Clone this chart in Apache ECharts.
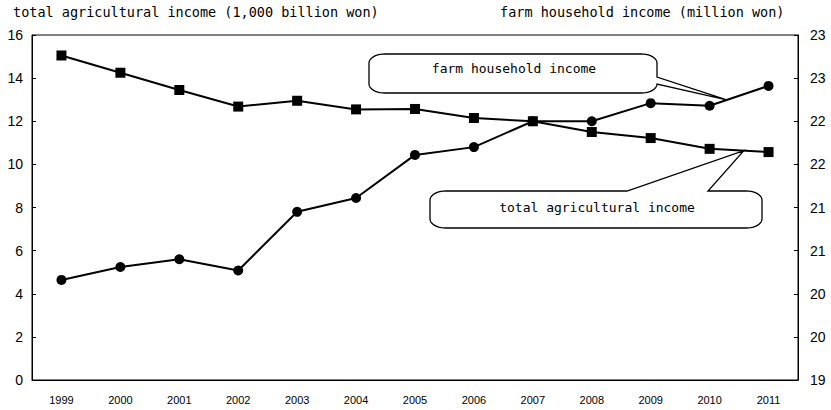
<!DOCTYPE html>
<html>
<head>
<meta charset="utf-8">
<script src="https://cdn.jsdelivr.net/npm/echarts@6/dist/echarts.min.js"></script>
<style>
html,body{margin:0;padding:0;background:#fff;}
#chart{width:831px;height:410px;}
</style>
</head>
<body>
<div id="chart"></div>
<script>
const years = ['1999','2000','2001','2002','2003','2004','2005','2006','2007','2008','2009','2010','2011'];
const totalAgriIncome = [15.05,14.25,13.45,12.68,12.95,12.55,12.57,12.15,12.0,11.5,11.22,10.72,10.57];
const farmHouseholdIncome = [20.16,20.31,20.40,20.27,20.95,21.11,21.61,21.70,22.0,22.0,22.21,22.18,22.41];
const leftAxisName = 'total agricultural income (1,000 billion won)';
const rightAxisName = 'farm household income (million won)';
const farmLabel = 'farm household income';
const totalLabel = 'total agricultural income';

const chart = echarts.init(document.getElementById('chart'), null, {renderer: 'svg'});
const txtFont = '"DejaVu Sans Mono", "Liberation Mono", monospace';
const numFont = '"Liberation Sans", Arial, sans-serif';

chart.setOption({
  backgroundColor: '#fff',
  animation: false,
  grid: {left: 32, right: 33, top: 35, bottom: 30, show: true, borderColor: '#000', borderWidth: 1},
  xAxis: {
    type: 'category', data: years, boundaryGap: true,
    axisLine: {lineStyle: {color: '#000', width: 1}},
    axisTick: {inside: true, length: 4, lineStyle: {color: '#000'}},
    axisLabel: {color: '#000', fontSize: 11, margin: 14, fontFamily: '"Liberation Sans Narrow", "Liberation Sans", sans-serif'}
  },
  yAxis: [{
    type: 'value', min: 0, max: 16, interval: 2,
    splitLine: {show: false},
    axisLine: {show: true, lineStyle: {color: '#000', width: 1}},
    axisTick: {show: true, inside: true, length: 4, lineStyle: {color: '#000'}},
    axisLabel: {color: '#000', fontSize: 14, margin: 9, fontFamily: numFont}
  }, {
    type: 'value', min: 19, max: 23, interval: 0.5, position: 'right',
    splitLine: {show: false},
    axisLine: {show: true, lineStyle: {color: '#000', width: 1}},
    axisTick: {show: true, inside: true, length: 4, lineStyle: {color: '#000'}},
    axisLabel: {color: '#000', fontSize: 14, margin: 12, fontFamily: numFont,
      formatter: v => String(Math.round(v))}
  }],
  series: [{
    name: totalLabel, type: 'line', yAxisIndex: 0, data: totalAgriIncome,
    symbol: 'rect', symbolSize: 10, showSymbol: true,
    lineStyle: {color: '#000', width: 2}, itemStyle: {color: '#000'}, z: 3
  }, {
    name: farmLabel, type: 'line', yAxisIndex: 1, data: farmHouseholdIncome,
    symbol: 'circle', symbolSize: 10, showSymbol: true,
    lineStyle: {color: '#000', width: 2}, itemStyle: {color: '#000'}, z: 3
  }]
});

function arc(pts, cx, cy, rx, ry, a0, a1) {
  const n = 10;
  for (let i = 0; i <= n; i++) {
    const a = (a0 + (a1 - a0) * i / n) * Math.PI / 180;
    pts.push([cx + rx * Math.cos(a), cy + ry * Math.sin(a)]);
  }
}
function lerp(p, q, t) { return [p[0] + (q[0] - p[0]) * t, p[1] + (q[1] - p[1]) * t]; }

const f11 = chart.convertToPixel({seriesIndex: 1}, [11, farmHouseholdIncome[11]]);
const f12 = chart.convertToPixel({seriesIndex: 1}, [12, farmHouseholdIncome[12]]);
const t11 = chart.convertToPixel({seriesIndex: 0}, [11, totalAgriIncome[11]]);
const t12 = chart.convertToPixel({seriesIndex: 0}, [12, totalAgriIncome[12]]);
const farmTip = lerp(f11, f12, 0.29);
const totalTip = lerp(t11, t12, 0.58);

(function () {
  const rx = 16, ry = 9;
  const x0 = 369, x1 = 657, y0 = 54, y1 = 93;
  const pts = [];
  arc(pts, x0 + rx, y0 + ry, rx, ry, 180, 270);
  arc(pts, x1 - rx, y0 + ry, rx, ry, 270, 360);
  pts.push([x1, 77]);
  pts.push(farmTip);
  pts.push([x1, y1 - ry]);
  arc(pts, x1 - rx, y1 - ry, rx, ry, 0, 90);
  arc(pts, x0 + rx, y1 - ry, rx, ry, 90, 180);
  const x0b = 430, x1b = 762, y0b = 191, y1b = 228;
  const p2 = [];
  arc(p2, x0b + rx, y0b + ry, rx, ry, 180, 270);
  p2.push([627, y0b]);
  p2.push(totalTip);
  p2.push([708, y0b]);
  arc(p2, x1b - rx, y0b + ry, rx, ry, 270, 360);
  arc(p2, x1b - rx, y1b - ry, rx, ry, 0, 90);
  arc(p2, x0b + rx, y1b - ry, rx, ry, 90, 180);
  chart.setOption({
    graphic: [
      {type: 'text', left: 13, top: 5, style: {text: leftAxisName, fill: '#000', font: '13.5px ' + txtFont}},
      {type: 'text', left: 500, top: 5, style: {text: rightAxisName, fill: '#000', font: '13.5px ' + txtFont}},
      {type: 'polygon', shape: {points: pts}, style: {fill: '#fff', stroke: '#000', lineWidth: 1.3}, z: 100},
      {type: 'text', x: 514, y: 68, z: 101, style: {text: farmLabel, fill: '#000', font: '13px ' + txtFont, textAlign: 'center', textVerticalAlign: 'middle'}},
      {type: 'polygon', shape: {points: p2}, style: {fill: '#fff', stroke: '#000', lineWidth: 1.3}, z: 100},
      {type: 'text', x: 597, y: 207, z: 101, style: {text: totalLabel, fill: '#000', font: '13px ' + txtFont, textAlign: 'center', textVerticalAlign: 'middle'}}
    ]
  });
})();
</script>
</body>
</html>
